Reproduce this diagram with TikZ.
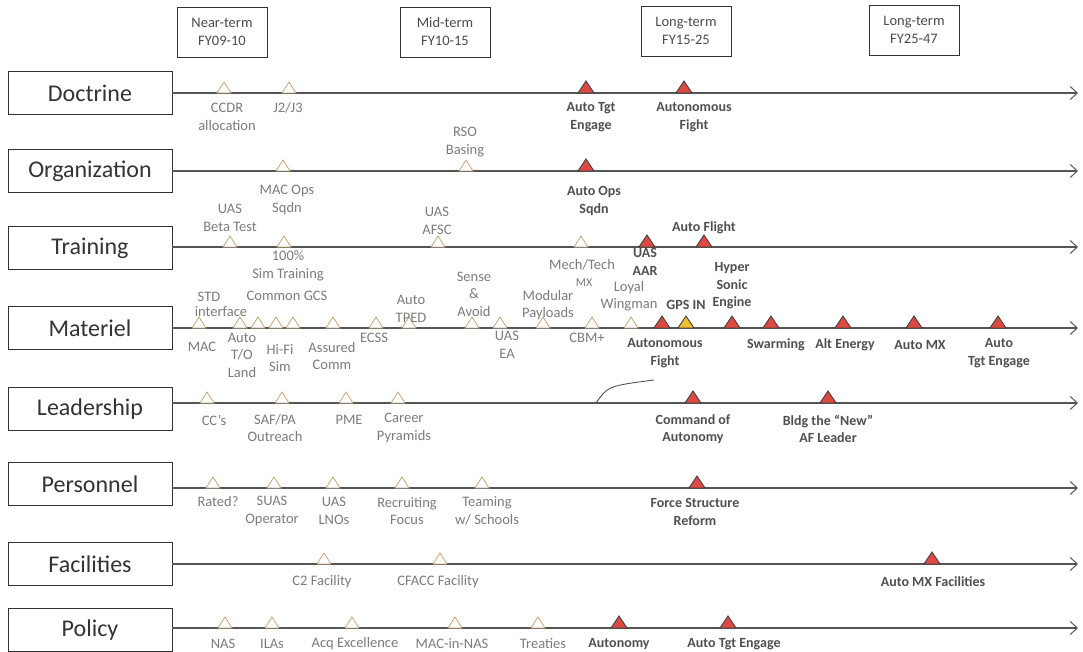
\documentclass[tikz,border=0pt]{standalone}
\usepackage{fontspec}
\setmainfont{Carlito}
\usetikzlibrary{arrows.meta}
\definecolor{lineC}{HTML}{555555}
\definecolor{tanC}{HTML}{C4A57C}
\definecolor{redC}{HTML}{DE4A43}
\definecolor{yelC}{HTML}{F0BE2C}
\definecolor{labC}{HTML}{7C7C7C}
\definecolor{blabC}{HTML}{505050}
\definecolor{rowC}{HTML}{333333}
\begin{document}
\begin{tikzpicture}[x=1pt,y=-1pt,
  rowbox/.style={draw=black!80, line width=0.9pt, minimum width=164pt, minimum height=43pt, inner sep=0pt, text=rowC, font=\fontsize{24}{27}\selectfont},
  hdr/.style={draw=black!80, line width=0.9pt, minimum width=90pt, minimum height=50pt, inner sep=0pt, align=center, text=black!70, font=\fontsize{14.5}{18}\selectfont},
  tl/.style={draw=lineC, line width=1.1pt, -{Straight Barb[length=7pt,width=13pt,line width=1pt]}},
  lab/.style={inner sep=0pt, align=center, text=labC, font=\fontsize{14.5}{17.5}\selectfont},
  blab/.style={inner sep=0pt, align=center, text=blabC, font=\bfseries\fontsize{14}{17.5}\selectfont},
  hollow/.style={draw=tanC, fill=white, line width=0.8pt},
  redm/.style={draw=black!75, fill=redC, line width=0.9pt},
  yelm/.style={draw=black!75, fill=yelC, line width=0.9pt},
  curveln/.style={draw=lineC, line width=0.9pt},
  ms/.pic={\path[pic actions] (-7,0) -- (0,-11) -- (7,0) -- cycle;},
  msr/.pic={\path[pic actions] (-8,0) -- (0,-12) -- (8,0) -- cycle;},
]
\fill[white] (0,0) rectangle (1083,652);
\useasboundingbox (0,0) rectangle (1083,652);

% headers
\node[hdr] (h1) at (222,32) {Near-term\\FY09-10};
\node[hdr] (h2) at (445,32) {Mid-term\\FY10-15};
\node[hdr] (h3) at (686,31) {Long-term\\FY15-25};
\node[hdr] (h4) at (914,30) {Long-term\\FY25-47};

% row boxes
\node[rowbox] (doc) at (90,93) {Doctrine};
\node[rowbox] (org) at (90,171) {Organization};
\node[rowbox] (trn) at (90,248) {Training};
\node[rowbox] (mat) at (90,328) {Materiel};
\node[rowbox] (lead) at (90,409) {Leadership};
\node[rowbox] (pers) at (90,484) {Personnel};
\node[rowbox] (fac) at (90,564) {Facilities};
\node[rowbox] (pol) at (90,630) {Policy};

% line ends
\coordinate (docE) at (1078,93);
\coordinate (orgE) at (1078,171);
\coordinate (trnE) at (1078,247);
\coordinate (matE) at (1078,328);
\coordinate (leadE) at (1078,403);
\coordinate (persE) at (1078,488);
\coordinate (facE) at (1078,564);
\coordinate (polE) at (1078,628);

\draw[tl] (doc.east) -- (docE);
\draw[tl] (org.east) -- (orgE);
\draw[tl] (trn.east |- trnE) -- (trnE);
\draw[tl] (mat.east) -- (matE);
\draw[tl] (lead.east |- leadE) -- (leadE);
\draw[tl] (pers.east |- persE) -- (persE);
\draw[tl] (fac.east) -- (facE);
\draw[tl] (pol.east |- polE) -- (polE);

% curve on leadership line
\coordinate (cvA) at (596,403);
\coordinate (cvB) at (654,380);
\draw[curveln] (cvA) .. controls (608,386) .. (cvB);

% ---------- Doctrine ----------
\pic[hollow] at (224,93) {ms};
\pic[hollow] at (289,93) {ms};
\pic[redm] at (586,93) {msr};
\pic[redm] at (684,93) {msr};
\node[lab] (d1) at (227,117) {CCDR\\allocation};
\node[lab] (d2) at (288,108) {J2/J3};
\node[blab] (d3) at (591,117) {Auto Tgt\\Engage};
\node[blab] (d4) at (694,117) {Autonomous\\Fight};

% ---------- Organization ----------
\pic[hollow] at (283,171) {ms};
\pic[hollow] at (466,171) {ms};
\pic[redm] at (586,171) {msr};
\node[lab] (o1) at (465,142) {RSO\\Basing};
\node[lab] (o2) at (287,200) {MAC Ops\\Sqdn};
\node[blab] (o3) at (594,201) {Auto Ops\\Sqdn};

% ---------- Training ----------
\pic[hollow] at (230,247) {ms};
\pic[hollow] at (284,247) {ms};
\pic[hollow] at (438,247) {ms};
\pic[hollow] at (581,247) {ms};
\pic[redm] at (647,247) {msr};
\pic[redm] at (704,247) {msr};
\node[lab] (t1) at (230,218) {UAS\\Beta Test};
\node[lab] (t2) at (437,221) {UAS\\AFSC};
\node[lab] (t3) at (288,266) {100\%\\Sim Training};
\node[blab] (t4) at (704,228) {Auto Flight};
\node[blab] (t5) at (645,262) {UAS\\AAR};
\node[lab] (t6) at (582,265) {Mech/Tech};
\node[lab, font=\fontsize{12}{14}\selectfont] (t7) at (584,283) {MX};

% ---------- Materiel ----------
\foreach \xx in {199,240,258,276,293,333,376,409,472,500,543,592,631}
  \pic[hollow] at (\xx,328) {ms};
\pic[redm] at (662,328) {msr};
\pic[yelm] at (686,328) {msr};
\foreach \xx in {732,771,843,914,998}
  \pic[redm] at (\xx,328) {msr};
\node[lab] (m1) at (202,347) {MAC};
\node[lab] (m2) at (209,297) {STD};
\node[lab] (m3) at (221,312) {interface};
\node[lab] (m4) at (242,355) {Auto\\T/O\\Land};
\node[lab] (m5) at (287,296) {Common GCS};
\node[lab] (m6) at (280,358) {Hi-Fi\\Sim};
\node[lab] (m7) at (332,356) {Assured\\Comm};
\node[lab] (m8) at (374,338) {ECSS};
\node[lab] (m9) at (411,309) {Auto\\TPED};
\node[lab] (m10) at (474,294) {Sense\\\&\\Avoid};
\node[lab] (m11) at (507,345) {UAS\\EA};
\node[lab] (m12) at (548,305) {Modular\\Payloads};
\node[lab] (m13) at (629,296) {Loyal\\Wingman};
\node[lab] (m14) at (587,338) {CBM+};
\node[blab] (m15) at (686,305) {GPS IN};
\node[blab] (m16) at (732,286) {Hyper\\Sonic\\Engine};
\node[blab] (m17) at (665,353) {Autonomous\\Fight};
\node[blab] (m18) at (776,345) {Swarming};
\node[blab] (m19) at (845,345) {Alt Energy};
\node[blab] (m20) at (920,345) {Auto MX};
\node[blab] (m21) at (999,353) {Auto\\Tgt Engage};

% ---------- Leadership ----------
\foreach \xx in {207,282,346,398}
  \pic[hollow] at (\xx,403) {ms};
\pic[redm] at (693,403) {msr};
\pic[redm] at (828,403) {msr};
\node[lab] (l1) at (214,420) {CC's};
\node[lab] (l2) at (275,428) {SAF/PA\\Outreach};
\node[lab] (l3) at (349,420) {PME};
\node[lab] (l4) at (404,428) {Career\\Pyramids};
\node[blab] (l5) at (693,429) {Command of\\Autonomy};
\node[blab] (l6) at (828,429) {Bldg the “New”\\AF Leader};

% ---------- Personnel ----------
\foreach \xx in {213,274,333,402,482}
  \pic[hollow] at (\xx,488) {ms};
\pic[redm] at (697,488) {msr};
\node[lab] (p1) at (218,502) {Rated?};
\node[lab] (p2) at (272,511) {SUAS\\Operator};
\node[lab] (p3) at (334,511) {UAS\\LNOs};
\node[lab] (p4) at (407,511) {Recruiting\\Focus};
\node[lab] (p5) at (487,511) {Teaming\\w/ Schools};
\node[blab] (p6) at (695,512) {Force Structure\\Reform};

% ---------- Facilities ----------
\pic[hollow] at (324,564) {ms};
\pic[hollow] at (440,564) {ms};
\pic[redm] at (932,564) {msr};
\node[lab] (f1) at (322,582) {C2 Facility};
\node[lab] (f2) at (438,582) {CFACC Facility};
\node[blab] (f3) at (933,582) {Auto MX Facilities};

% ---------- Policy ----------
\foreach \xx in {225,272,352,455,538}
  \pic[hollow] at (\xx,628) {ms};
\pic[redm] at (619,628) {msr};
\pic[redm] at (728,628) {msr};
\node[lab] (q1) at (223,644) {NAS};
\node[lab] (q2) at (272,644) {ILAs};
\node[lab] (q3) at (355,644) {Acq Excellence};
\node[lab] (q4) at (452,644) {MAC-in-NAS};
\node[lab] (q5) at (543,644) {Treaties};
\node[blab] (q6) at (619,644) {Autonomy};
\node[blab] (q7) at (734,644) {Auto Tgt Engage};
\end{tikzpicture}
\end{document}
